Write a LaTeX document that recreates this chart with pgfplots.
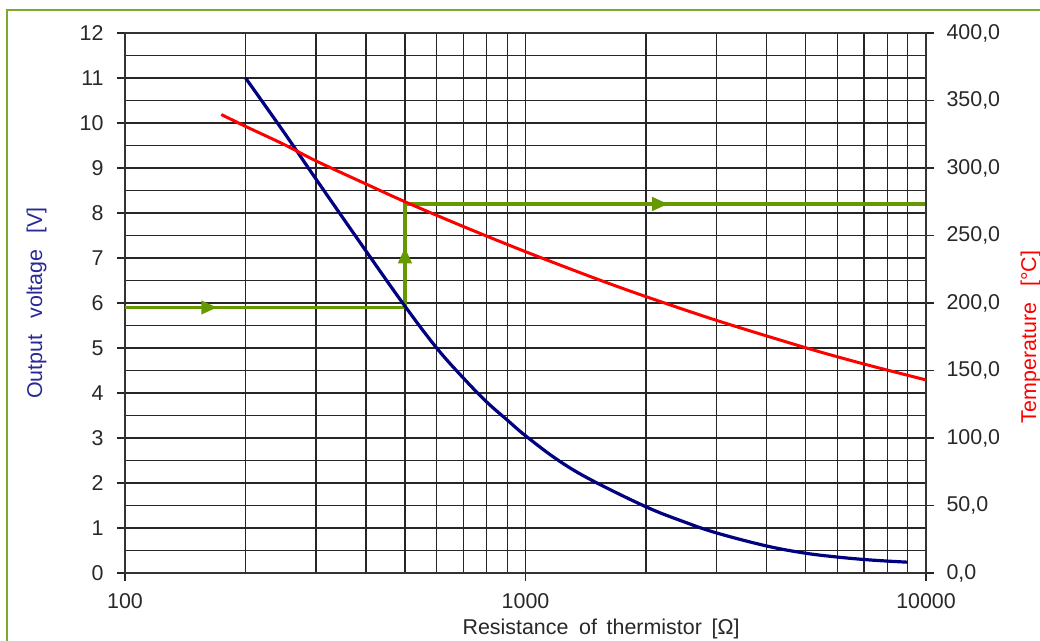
\documentclass[border=0pt]{standalone}
\usepackage{fontspec}
\setmainfont{Liberation Sans}
\usepackage{pgfplots}
\pgfplotsset{compat=1.18}
\usetikzlibrary{decorations.markings,arrows.meta}
\definecolor{navyline}{RGB}{0,0,128}
\definecolor{gline}{RGB}{102,153,0}
\definecolor{frameg}{RGB}{122,170,40}
\definecolor{labblue}{RGB}{40,40,150}
\definecolor{ticktext}{RGB}{40,40,40}
\newcommand{\fs}{\fontsize{21.5}{21.5}\selectfont}
\begin{document}
\begin{tikzpicture}[x=1bp,y=1bp]
\useasboundingbox (0,0) rectangle (1040,641);
\draw[frameg, line width=2bp] (7,-20) -- (7,631) -- (1060,631);
\begin{axis}[
  at={(125bp,68bp)}, anchor=south west,
  scale only axis, width=801bp, height=540bp,
  xmode=log, xmin=100, xmax=10000,
  ymin=0, ymax=12,
  ytick={0,1,...,12}, minor ytick={0.5,1.5,...,11.5},
  xtick={100,1000,10000}, xticklabels={100,1000,10000},
  minor xtick={200,300,400,500,600,700,800,900,2000,3000,4000,5000,6000,7000,8000,9000},
  xtick pos=bottom, ytick pos=left,
  grid=both,
  major grid style={black!85, line width=1.3bp},
  minor grid style={black!85, line width=1.3bp},
  tick align=outside, major tick length=8bp, minor tick length=0bp,
  every tick/.style={black!85, line width=1.3bp},
  axis line style={black!80, line width=2bp},
  /pgf/number format/assume math mode=true,
  tick label style={font=\fs, text=ticktext},
  yticklabel style={xshift=-10bp},
  xticklabel style={yshift=-9bp},
  xlabel={Resistance\hspace{0.5em}of\hspace{0.45em}thermistor\hspace{0.45em}[Ω]},
  xlabel style={at={(axis description cs:0.5943,-0.113)}, anchor=base, font=\fs, text=ticktext},
  ylabel={Output\hspace{0.75em}voltage\hspace{0.75em}[V]},
  ylabel style={at={(axis description cs:-0.1036,0.5)}, anchor=base, font=\fs, text=labblue},
]
\addplot[gline, line width=3.8bp, line join=miter, postaction={decorate},
  decoration={markings,
    mark=at position 0.102 with {\arrow{Triangle[length=16bp,width=13bp]}},
    mark=at position 0.376 with {\arrow{Triangle[length=16bp,width=13bp]}},
    mark=at position 0.715 with {\arrow{Triangle[length=16bp,width=13bp]}}}]
  coordinates {(100,5.9) (500,5.9) (500,8.2) (10000,8.2)};
\addplot[navyline, line width=3.2bp, smooth, tension=0.6] coordinates {
  (200,11.0) (250,9.78) (300,8.75) (400,7.15) (500,5.93) (600,5.0) (700,4.33)
  (800,3.80) (900,3.40) (1000,3.05) (1200,2.52) (1450,2.08) (2000,1.47)
  (2500,1.13) (3000,0.89) (4000,0.60) (5000,0.44) (6000,0.355) (7000,0.30)
  (8000,0.265) (9000,0.24)};
\end{axis}
\begin{axis}[
  at={(125bp,68bp)}, anchor=south west,
  scale only axis, width=801bp, height=540bp,
  xmode=log, xmin=100, xmax=10000,
  ymin=0, ymax=400,
  axis x line=none, axis y line*=right,
  ytick={0,50,...,400},
  tick align=outside, major tick length=8bp, minor tick length=0bp,
  every tick/.style={black!85, line width=1.3bp},
  axis line style={black!80, line width=2bp},
  /pgf/number format/assume math mode=true,
  tick label style={font=\fs, text=ticktext},
  yticklabel style={xshift=9bp, /pgf/number format/fixed, /pgf/number format/fixed zerofill, /pgf/number format/precision=1, /pgf/number format/use comma},
  ylabel={Temperature\hspace{0.75em}[°C]},
  ylabel style={at={(axis description cs:1.1373,0.437)}, anchor=base, font=\fs, text=red},
]
\addplot[red, line width=3bp, smooth, tension=0.5] coordinates {
  (174,339.6) (200,330.8) (250,317.3) (300,305.2) (400,288.1) (500,275.0)
  (700,256.6) (1000,238) (1500,218.0) (2000,204.7) (3000,187.1) (5000,166.9)
  (7000,154.8) (10000,143)};
\end{axis}
\end{tikzpicture}
\end{document}
